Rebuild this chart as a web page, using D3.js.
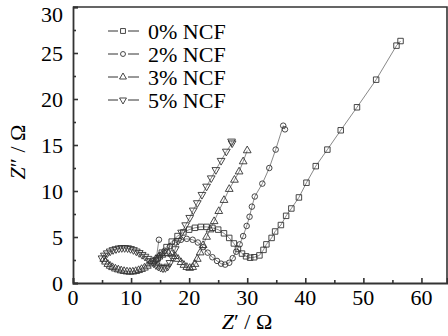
<!DOCTYPE html>
<html>
<head>
<meta charset="utf-8">
<script src="https://cdn.jsdelivr.net/npm/d3@7"></script>
</head>
<body style="margin:0">
<div id="chart"></div>
<script>
// Nyquist data, [Z', Z'']
const ncf0 = [[14.6,2.7],[15.3,3.3],[16.1,3.9],[17.0,4.5],[18.0,5.1],[19.0,5.5],[20.0,5.8],[21.0,6.0],[22.0,6.1],[23.0,6.1],[24.0,6.0],[25.0,5.8],[26.0,5.4],[26.9,4.9],[27.7,4.3],[28.4,3.7],[29.1,3.2],[29.8,2.9],[30.5,2.75],[31.2,2.8],[32.1,3.0],[32.8,3.6],[33.3,4.2],[34.2,4.9],[34.8,5.6],[35.8,6.3],[36.7,7.3],[37.6,8.1],[38.9,9.3],[40.2,10.9],[41.8,12.7],[43.8,14.5],[46.1,16.6],[48.9,19.1],[52.2,22.1],[55.7,25.8],[56.4,26.3]];
const ncf2 = [[14.8,4.7],[14.3,2.5],[15.0,3.0],[15.8,3.5],[16.7,4.0],[17.6,4.4],[18.6,4.7],[19.6,4.8],[20.6,4.7],[21.5,4.4],[22.4,3.9],[23.2,3.3],[24.0,2.8],[24.8,2.4],[25.5,2.1],[26.2,2.0],[26.9,2.2],[27.5,2.7],[28.1,3.4],[28.7,4.2],[29.3,5.1],[29.9,6.2],[30.4,7.2],[30.8,8.3],[31.3,9.4],[32.6,10.8],[33.8,12.5],[34.9,14.5],[36.2,17.1],[36.5,16.7]];
const ncf3 = [[5.3,2.6],[5.6,2.3],[6.0,2.05],[6.4,1.85],[6.8,1.7],[7.3,1.55],[7.8,1.45],[8.3,1.35],[8.8,1.28],[9.3,1.23],[9.8,1.2],[10.3,1.22],[10.8,1.28],[11.3,1.38],[11.8,1.5],[12.3,1.65],[12.8,1.85],[13.3,2.1],[13.8,2.35],[14.3,2.6],[14.8,2.85],[15.3,3.05],[15.8,3.2],[16.4,3.25],[17.0,3.15],[17.6,2.9],[18.1,2.6],[18.6,2.25],[19.1,1.95],[19.6,1.72],[20.1,1.62],[20.6,1.72],[21.0,2.05],[21.4,2.6],[21.9,3.3],[22.4,4.1],[23.0,5.0],[23.6,5.8],[24.3,6.7],[25.1,7.8],[26.0,9.0],[26.9,10.2],[27.8,11.2],[28.6,12.1],[29.3,13.2],[30.0,14.4]];
const ncf5 = [[5.0,2.7],[5.4,3.0],[5.9,3.25],[6.4,3.45],[6.9,3.6],[7.4,3.7],[7.9,3.78],[8.4,3.82],[8.9,3.82],[9.4,3.8],[9.9,3.72],[10.4,3.6],[10.9,3.45],[11.4,3.28],[11.9,3.08],[12.4,2.88],[12.9,2.65],[13.4,2.4],[13.9,2.15],[14.3,1.95],[14.7,1.8],[15.1,1.68],[15.5,1.62],[15.9,1.65],[16.3,1.8],[16.7,2.2],[17.1,2.8],[17.6,3.7],[18.1,4.6],[18.7,5.5],[19.4,6.3],[20.1,7.1],[20.7,7.9],[21.4,8.7],[22.2,9.6],[23.0,10.5],[23.8,11.4],[24.6,12.3],[25.5,13.3],[26.4,14.3],[27.4,15.2],[27.3,15.4]];

const labels = ["0% NCF", "2% NCF", "3% NCF", "5% NCF"];
const xTicks = [0, 10, 20, 30, 40, 50, 60];
const yTicks = [0, 5, 10, 15, 20, 25, 30];

const width = 448, height = 336;
const margin = { top: 7, right: 1, bottom: 53, left: 73 };
const ink = "#333";
const fam = "'Liberation Serif', 'Times New Roman', Tinos, FreeSerif";

const series = [
    { name: labels[0], data: ncf0, sym: d3.symbolSquare, size: 30, rot: 0 },
    { name: labels[1], data: ncf2, sym: d3.symbolCircle, size: 24, rot: 0 },
    { name: labels[2], data: ncf3, sym: d3.symbolTriangle, size: 26, rot: 0 },
    { name: labels[3], data: ncf5, sym: d3.symbolTriangle, size: 26, rot: 180 }
];

const svg = d3.select("#chart").append("svg")
    .attr("width", width)
    .attr("height", height);

const x = d3.scaleLinear().domain([0, 64.4]).range([margin.left, width - margin.right]);
const y = d3.scaleLinear().domain([0, 30]).range([height - margin.bottom, margin.top]);

// texts first, straight on the svg root
const texts = [];
xTicks.forEach(t => texts.push({ x: x(t), y: 305, a: "middle", s: String(t) }));
yTicks.forEach(t => texts.push({ x: 63, y: t === 30 ? 22 : y(t) + 7.5, a: "end", s: String(t) }));
labels.forEach((l, i) => texts.push({ x: 148, y: [31, 54, 77, 100][i] + 7.5, a: "start", s: l }));
texts.push({ x: 247, y: 329, a: "middle", s: '<tspan style="font-style:italic">Z</tspan>′ / Ω' });

svg.selectAll("text")
    .data(texts)
    .join("text")
    .attr("x", d => d.x)
    .attr("y", d => d.y)
    .attr("text-anchor", d => d.a)
    .attr("font-family", fam)
    .style("font-family", d => fam)
    .style("font-size", "22px")
    .html(d => d.s);

svg.append("text")
    .attr("transform", "translate(25,152) rotate(-90)")
    .attr("text-anchor", "middle")
    .attr("font-family", fam)
    .style("font-family", fam)
    .style("font-size", "22px")
    .html('<tspan style="font-style:italic">Z</tspan>″ / Ω');

// axis lines and inward ticks
svg.append("g")
    .attr("transform", `translate(0,${height - margin.bottom})`)
    .call(d3.axisBottom(x).tickValues(xTicks).tickSize(-5).tickFormat(""));
svg.append("g")
    .attr("transform", `translate(0,${height - margin.bottom})`)
    .call(d3.axisBottom(x).tickValues(d3.range(5, 65, 10)).tickSize(-3).tickFormat(""))
    .call(g => g.select(".domain").remove());
svg.append("g")
    .attr("transform", `translate(${margin.left},0)`)
    .call(d3.axisLeft(y).tickValues(yTicks).tickSize(-5).tickFormat(""));
svg.append("g")
    .attr("transform", `translate(${margin.left},0)`)
    .call(d3.axisLeft(y).tickValues(d3.range(2.5, 30, 5)).tickSize(-3).tickFormat(""))
    .call(g => g.select(".domain").remove());

svg.selectAll(".tick line").attr("stroke", ink).attr("stroke-width", 1.6);
svg.selectAll(".domain").attr("stroke", ink).attr("stroke-width", 1.8);
svg.selectAll(".tick text").remove();

// frame top / right
svg.append("path")
    .attr("d", `M${margin.left},${margin.top}H${width - margin.right}V${height - margin.bottom}`)
    .attr("fill", "none")
    .attr("stroke", ink)
    .attr("stroke-width", 1.6);

// series
const lineGen = d3.line().x(d => x(d[0])).y(d => y(d[1]));
const plot = svg.append("g");
series.forEach(s => {
    plot.append("path")
        .datum(s.data)
        .attr("d", lineGen)
        .attr("fill", "none")
        .attr("stroke", "#555")
        .attr("stroke-width", 0.7);
    plot.selectAll(null)
        .data(s.data)
        .join("path")
        .attr("transform", d => `translate(${x(d[0])},${y(d[1])}) rotate(${s.rot})`)
        .attr("d", d3.symbol(s.sym, s.size))
        .attr("fill", "none")
        .attr("stroke", ink)
        .attr("stroke-width", 0.9);
});

// legend markers
const legY = [31, 54, 77, 100];
series.forEach((s, i) => {
    svg.append("line").attr("x1", 108).attr("x2", 118).attr("y1", legY[i]).attr("y2", legY[i])
        .attr("stroke", ink).attr("stroke-width", 1);
    svg.append("line").attr("x1", 128).attr("x2", 139).attr("y1", legY[i]).attr("y2", legY[i])
        .attr("stroke", ink).attr("stroke-width", 1);
    svg.append("path")
        .attr("transform", `translate(123,${legY[i]}) rotate(${s.rot})`)
        .attr("d", d3.symbol(s.sym, s.size * 0.8))
        .attr("fill", "none")
        .attr("stroke", ink)
        .attr("stroke-width", 0.9);
});
</script>
</body>
</html>
